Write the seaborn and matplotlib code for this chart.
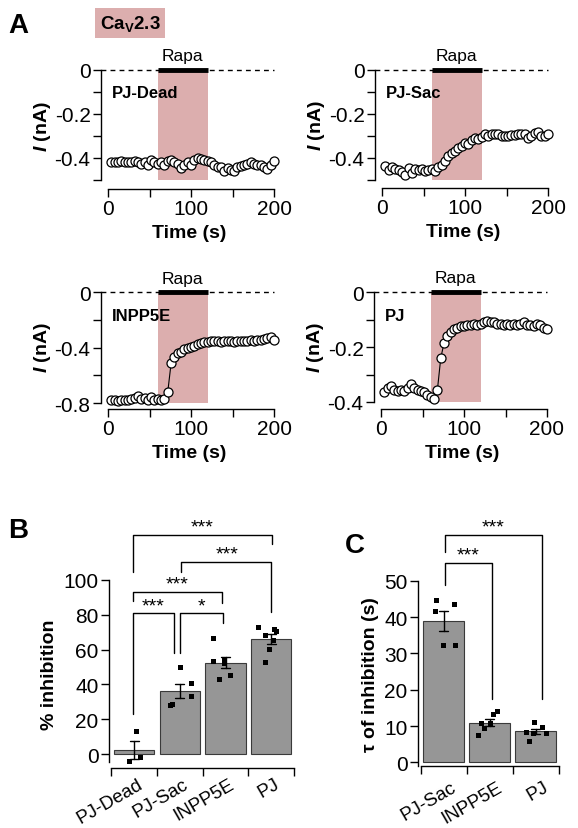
import numpy as np
import pandas as pd
import matplotlib
matplotlib.use('Agg')
import matplotlib.pyplot as plt
import matplotlib.transforms as mtransforms
import seaborn as sns

sns.set_style('ticks')
plt.rcParams['font.family'] = ['Liberation Sans', 'DejaVu Sans']
plt.rcParams['axes.unicode_minus'] = False
plt.rcParams['mathtext.fontset'] = 'custom'
plt.rcParams['mathtext.it'] = 'Liberation Sans:italic:bold'
plt.rcParams['mathtext.bf'] = 'Liberation Sans:bold'
plt.rcParams['mathtext.rm'] = 'Liberation Sans'
for k in ['text.color', 'axes.labelcolor', 'xtick.color', 'ytick.color', 'axes.edgecolor']:
    plt.rcParams[k] = 'black'

# ---- data: time courses (panel A), sampled every 4 s ----
time_s = np.arange(4, 201, 4)

pj_dead = [-0.42, -0.42, -0.42, -0.415, -0.42, -0.42, -0.42, -0.415, -0.42, -0.425,
           -0.42, -0.43, -0.41, -0.42, -0.425, -0.42, -0.43, -0.415, -0.41, -0.42,
           -0.425, -0.445, -0.43, -0.42, -0.43, -0.41, -0.40, -0.405, -0.41, -0.415,
           -0.42, -0.43, -0.44, -0.44, -0.46, -0.445, -0.455, -0.46, -0.44, -0.435,
           -0.43, -0.425, -0.42, -0.425, -0.43, -0.43, -0.44, -0.45, -0.43, -0.415]

pj_sac = [-0.435, -0.455, -0.44, -0.45, -0.455, -0.465, -0.475, -0.445, -0.47, -0.45,
          -0.455, -0.45, -0.46, -0.455, -0.45, -0.46, -0.44, -0.43, -0.415, -0.39,
          -0.375, -0.37, -0.355, -0.345, -0.33, -0.335, -0.32, -0.31, -0.315, -0.305,
          -0.29, -0.30, -0.29, -0.29, -0.29, -0.30, -0.30, -0.30, -0.295, -0.295,
          -0.29, -0.29, -0.29, -0.31, -0.30, -0.285, -0.28, -0.30, -0.30, -0.29]

inpp5e = [-0.78, -0.775, -0.785, -0.78, -0.78, -0.775, -0.77, -0.765, -0.75, -0.77,
          -0.765, -0.78, -0.76, -0.775, -0.77, -0.775, -0.77, -0.72, -0.515, -0.465,
          -0.44, -0.43, -0.41, -0.405, -0.395, -0.39, -0.375, -0.37, -0.36, -0.36,
          -0.35, -0.355, -0.35, -0.36, -0.35, -0.355, -0.35, -0.36, -0.35, -0.355,
          -0.35, -0.35, -0.345, -0.35, -0.345, -0.345, -0.34, -0.33, -0.325, -0.345]

pj = [-0.365, -0.35, -0.34, -0.355, -0.36, -0.355, -0.36, -0.35, -0.335, -0.35,
      -0.355, -0.36, -0.365, -0.375, -0.38, -0.39, -0.355, -0.24, -0.185, -0.16,
      -0.145, -0.135, -0.13, -0.125, -0.125, -0.12, -0.12, -0.115, -0.12, -0.115,
      -0.11, -0.105, -0.11, -0.11, -0.115, -0.115, -0.12, -0.115, -0.12, -0.115,
      -0.12, -0.115, -0.11, -0.12, -0.12, -0.125, -0.115, -0.12, -0.13, -0.135]

rapa_on, rapa_off = 60, 120

# ---- data: % inhibition (panel B) ----
b_groups = ['PJ-Dead', 'PJ-Sac', 'INPP5E', 'PJ']
b_pj_dead = [13.0, -1.9, -3.8]
b_pj_sac = [50.2, 40.8, 33.1, 28.4, 28.7]
b_inpp5e = [66.7, 52.1, 53.6, 54.6, 45.4, 43.1]
b_pj = [70.9, 71.8, 72.8, 65.7, 68.4, 60.3, 52.7]

# ---- data: tau of inhibition (panel C) ----
c_groups = ['PJ-Sac', 'INPP5E', 'PJ']
c_pj_sac = [44.7, 43.6, 41.6, 32.4, 32.4]
c_inpp5e = [13.2, 14.1, 10.7, 9.5, 10.7, 7.4]
c_pj = [9.8, 11.1, 8.4, 8.1, 6.0, 8.1]

PINK = '#dcaeae'
BAR_GRAY = '#969696'

W, H = 578, 829
fig = plt.figure(figsize=(W / 100, H / 100), dpi=100)


def px_axes(left, top, right, bottom):
    return fig.add_axes([left / W, 1 - bottom / H, (right - left) / W, (bottom - top) / H])


def trace_panel(vals, label, x0, y0, ppu, bottom_px, ylow, majors, minors, label_y):
    pps = 0.83  # pixels per second
    xmin, xmax = -8.5, 203
    ymax = 8 / ppu
    ymin = -(bottom_px - y0) / ppu
    ax = px_axes(x0 + xmin * pps, y0 - ymax * ppu, x0 + xmax * pps, bottom_px)
    ax.fill_between([rapa_on, rapa_off], ylow, 0, color=PINK, lw=0, zorder=0)
    ax.hlines(0, xmin, 200, colors='k', linestyles=(0, (3.5, 3)), lw=1, zorder=1)
    ax.hlines(0, rapa_on, rapa_off, colors='k', lw=3.5, zorder=3, clip_on=False)
    sns.lineplot(x=time_s, y=vals, ax=ax, color='black', lw=0.8, marker='o',
                 markersize=6.5, markerfacecolor='white', markeredgecolor='black',
                 markeredgewidth=0.9, zorder=4, clip_on=False)
    ax.text((rapa_on + rapa_off) / 2, 0.012 + 4 / ppu, 'Rapa', ha='center', va='bottom',
            fontsize=12.5, clip_on=False)
    ax.text(5, label_y, label, fontsize=12, fontweight='bold', va='center', ha='left')
    ax.set_xlim(xmin, xmax)
    ax.set_ylim(ymin, ymax)
    ax.spines['top'].set_visible(False)
    ax.spines['right'].set_visible(False)
    ax.spines['left'].set_bounds(ylow, 0)
    ax.spines['bottom'].set_bounds(0, 200)
    ax.set_xticks([0, 50, 100, 150, 200])
    ax.set_xticklabels(['0', '', '100', '', '200'])
    ax.set_yticks(majors)
    ax.set_yticklabels(['0' if v == 0 else f'{v:g}' for v in majors])
    ax.set_yticks(minors, minor=True)
    ax.tick_params(axis='both', which='both', direction='out', length=5.5, width=1,
                   labelsize=15, pad=2)
    ax.set_xlabel('Time (s)', fontsize=14, fontweight='bold', labelpad=4)
    ax.set_ylabel(r'$I$ (nA)', fontsize=14, fontweight='bold', labelpad=1)
    for s in ax.spines.values():
        s.set_linewidth(1)
    return ax


trace_panel(pj_dead, 'PJ-Dead', 108, 71, 220, 190, -0.5,
            [0, -0.2, -0.4], [-0.1, -0.3, -0.5], -0.1)
trace_panel(pj_sac, 'PJ-Sac', 382, 71, 220, 189, -0.5,
            [0, -0.2, -0.4], [-0.1, -0.3, -0.5], -0.1)
trace_panel(inpp5e, 'INPP5E', 108, 293, 138.75, 410, -0.8,
            [0, -0.4, -0.8], [-0.2, -0.6], -0.17)
trace_panel(pj, 'PJ', 381, 293, 275, 410, -0.4,
            [0, -0.2, -0.4], [-0.1, -0.3], -0.085)

# header box
fig.text(130 / W, 1 - 24 / H, r'Ca$_\mathbf{V}$2.3', ha='center', va='center',
         fontsize=13.5, fontweight='bold',
         bbox=dict(boxstyle='square,pad=0.25', fc=PINK, ec='none'))


def draw_bars(ax, df, groups, seed):
    sns.barplot(data=df, x='group', y='val', order=groups, color=BAR_GRAY, saturation=1,
                edgecolor='#3a3a3a', linewidth=0.8, width=0.88, errorbar='se',
                capsize=0.2, err_kws={'linewidth': 1, 'color': 'black'}, ax=ax, zorder=2)
    np.random.seed(seed)
    sns.stripplot(data=df, x='group', y='val', order=groups, color='black', marker='s',
                  size=3.6, jitter=0.3, linewidth=0, ax=ax, zorder=3)


def style_bar_axes(ax, n, ymin, ymax, spine_low, yticks, ylabel):
    ax.set_xlim(-0.5 - 2.5 / 46, n - 0.5)
    ax.set_ylim(ymin, ymax)
    ax.spines['top'].set_visible(False)
    ax.spines['right'].set_visible(False)
    ax.spines['left'].set_bounds(spine_low, ymax)
    ax.spines['bottom'].set_bounds(-0.5, n - 0.5)
    ax.set_yticks(yticks)
    ax.set_xticks(np.arange(n + 1) - 0.5)
    ax.set_xticklabels([])
    ax.tick_params(axis='x', length=6, width=1, direction='out')
    ax.tick_params(axis='y', direction='out', length=5.5, width=1, labelsize=15, pad=2)
    ax.set_xlabel('')
    ax.set_ylabel(ylabel, fontsize=14, fontweight='bold', labelpad=4)
    for s in ax.spines.values():
        s.set_linewidth(1)


def add_labels(ax, groups, dx, dy):
    offset = mtransforms.ScaledTranslation(dx, dy, fig.dpi_scale_trans)
    trans = mtransforms.blended_transform_factory(ax.transData, ax.transAxes) + offset
    for i, g in enumerate(groups):
        ax.text(i, 0, g, transform=trans, rotation=30, rotation_mode='anchor',
                ha='right', va='top', fontsize=13.5, clip_on=False)


def add_brackets(ax, brackets):
    for x1, y1, x2, y2, ytop, stars, sx, sy in brackets:
        ax.plot([x1, x1, x2, x2], [y1, ytop, ytop, y2], color='black', lw=1,
                clip_on=False, zorder=5)
        ax.text(sx, sy, stars, ha='center', va='center', fontsize=14, clip_on=False)


# ---- panel B ----
axB = px_axes(109, 581, 294, 769)
dfB = pd.DataFrame({'group': np.repeat(b_groups, [len(b_pj_dead), len(b_pj_sac), len(b_inpp5e), len(b_pj)]),
                    'val': np.concatenate([b_pj_dead, b_pj_sac, b_inpp5e, b_pj])})
draw_bars(axB, dfB, b_groups, 3)
style_bar_axes(axB, 4, -8.0, 100, -4.6, [0, 20, 40, 60, 80, 100], '% inhibition')
add_labels(axB, b_groups, 0.03, -0.07)
add_brackets(axB, [
    (-0.03, 104.8, 3.02, 120.7, 125.9, '***', 1.48, 130.5),
    (1.03, 104.4, 3.0, 81.4, 110.2, '***', 2.03, 115.0),
    (-0.03, 88.1, 1.93, 86.8, 92.9, '***', 0.93, 97.5),
    (-0.03, 23.0, 0.86, 57.9, 80.8, '***', 0.42, 85.3),
    (1.01, 57.9, 1.94, 75.1, 80.8, '*', 1.48, 85.3),
])

# ---- panel C ----
axC = px_axes(418, 581.7, 558.7, 767)
dfC = pd.DataFrame({'group': np.repeat(c_groups, [len(c_pj_sac), len(c_inpp5e), len(c_pj)]),
                    'val': np.concatenate([c_pj_sac, c_inpp5e, c_pj])})
draw_bars(axC, dfC, c_groups, 5)
style_bar_axes(axC, 3, -1.0, 50, -1.0, [0, 10, 20, 30, 40, 50], 'τ of inhibition (s)')
add_labels(axC, c_groups, 0.07, -0.12)
add_brackets(axC, [
    (0.03, 58.0, 2.13, 17.4, 62.5, '***', 1.08, 64.8),
    (0.03, 48.8, 1.06, 17.4, 54.8, '***', 0.53, 57.0),
])

# panel letters
fig.text(8 / W, 1 - 33 / H, 'A', fontsize=20, fontweight='bold')
fig.text(8 / W, 1 - 538 / H, 'B', fontsize=20, fontweight='bold')
fig.text(345 / W, 1 - 553 / H, 'C', fontsize=20, fontweight='bold')

fig.savefig('out.png', dpi=100)
